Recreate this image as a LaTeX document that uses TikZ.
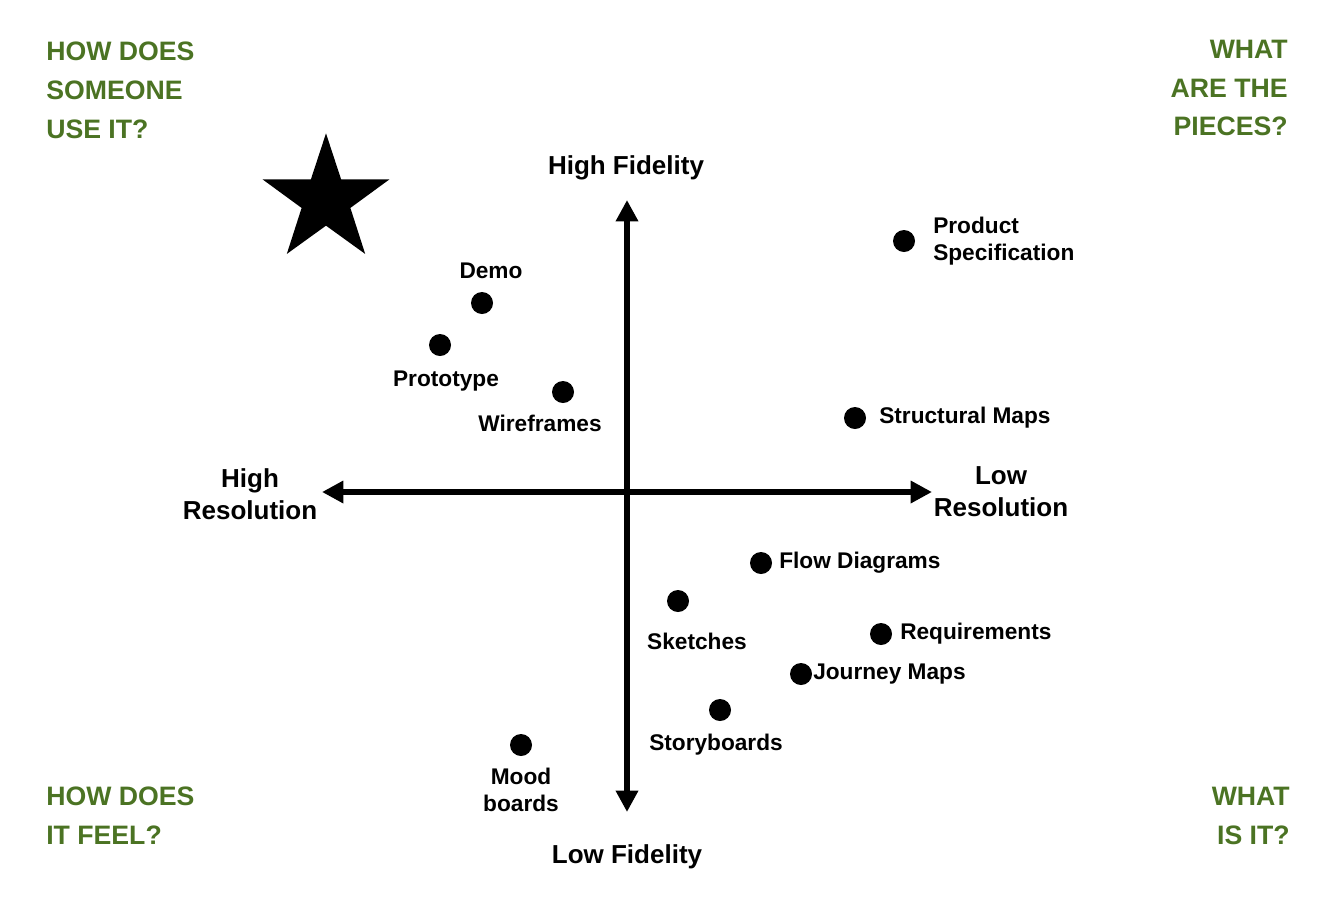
\documentclass[tikz,border=0pt]{standalone}
\usepackage{fontspec}
\setmainfont{Liberation Sans}
\usetikzlibrary{shapes.geometric,arrows.meta}
\definecolor{hand}{RGB}{75,115,35}
\tikzset{
  dot/.style={circle,fill=black,inner sep=0pt,minimum size=16.5pt},
  lbl/.style={font=\bfseries\fontsize{17}{20}\selectfont,inner sep=0.75pt,align=center},
  axlbl/.style={font=\bfseries\fontsize{19.5}{24}\selectfont,inner sep=0.75pt,align=center},
  corner/.style={text=hand,font=\bfseries\fontsize{20}{29}\selectfont,inner sep=0pt},
  axis/.style={line width=4.5pt,-{Triangle[length=16pt,width=16pt]}}
}
\begin{document}
\begin{tikzpicture}[x=0.75pt,y=0.75pt,yscale=-1,xscale=1]
\useasboundingbox (0,0) rectangle (1324,922);
% axes
\coordinate (c) at (627,492);
\coordinate (top) at (627,200);
\coordinate (bot) at (627,812);
\coordinate (lft) at (322,492);
\coordinate (rgt) at (932,492);
\draw[axis] (c) -- (top);
\draw[axis] (c) -- (bot);
\draw[axis] (c) -- (lft);
\draw[axis] (c) -- (rgt);
\node[axlbl] (hf) at (626,168) {High Fidelity};
\node[axlbl] (lf) at (627,857) {Low Fidelity};
\node[axlbl] (hr) at (250,494) {High\\Resolution};
\node[axlbl] (lr) at (1001,492) {Low\\Resolution};
% star
\node[star,star points=5,star point ratio=2.6,fill=black,minimum size=100pt,inner sep=0pt] (st) at (326,200) {};
% points
\node[dot] (ps) at (904,241) {};
\node[lbl,anchor=west,align=left] at (932,241) {Product\\Specification};
\node[dot] (sm) at (855,418) {};
\node[lbl,anchor=west] at (878,418) {Structural Maps};
\node[dot] (de) at (482,303) {};
\node[lbl] at (491,271) {Demo};
\node[dot] (pr) at (440,345) {};
\node[lbl] at (446,381) {Prototype};
\node[dot] (wf) at (563,392) {};
\node[lbl] at (540,423) {Wireframes};
\node[dot] (fd) at (761,563) {};
\node[lbl,anchor=west] at (778,563) {Flow Diagrams};
\node[dot] (sk) at (678,601) {};
\node[lbl] at (697,641) {Sketches};
\node[dot] (rq) at (881,634) {};
\node[lbl,anchor=west] at (899,634) {Requirements};
\node[dot] (jm) at (801,674) {};
\node[lbl,anchor=west] at (812,674) {Journey Maps};
\node[dot] (sb) at (720,710) {};
\node[lbl] at (716,745) {Storyboards};
\node[dot] (mb) at (521,745) {};
\node[lbl] at (521,790) {Mood\\boards};
% corners
\node[corner,anchor=north west,align=left] (tl) at (46,42) {HOW DOES\\SOMEONE\\USE IT?};
\node[corner,anchor=north east,align=right] (tr) at (1288,40) {WHAT\\ARE THE\\PIECES?};
\node[corner,anchor=north west,align=left] (bl) at (46,787) {HOW DOES\\IT FEEL?};
\node[corner,anchor=north east,align=right] (br) at (1290,787) {WHAT\\IS IT?};
\end{tikzpicture}
\end{document}
